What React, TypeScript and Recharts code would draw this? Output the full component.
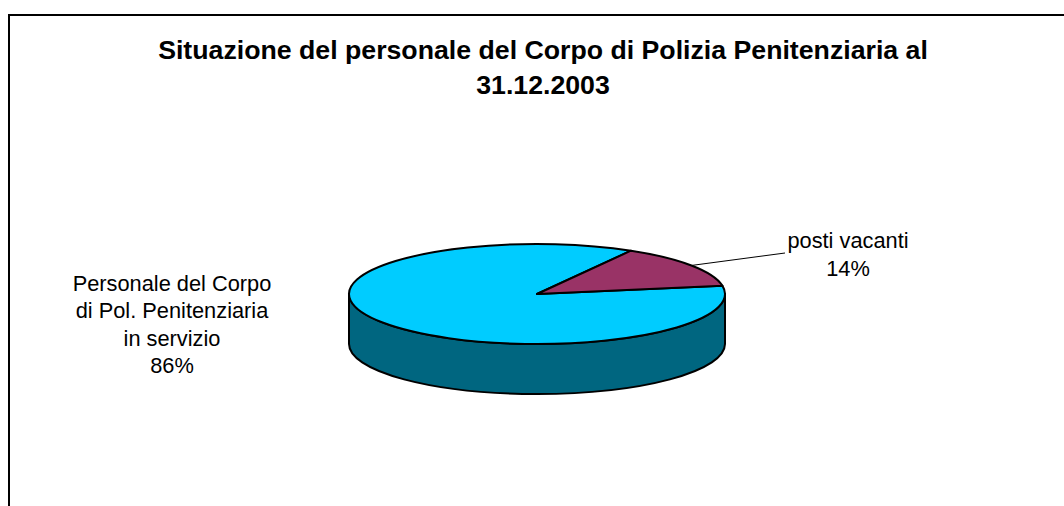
import { Pie, PieChart } from "recharts";

const categories = ["Personale del Corpo\ndi Pol. Penitenziaria\nin servizio", "posti vacanti"];
const values = [86, 14];
const topColors = ["#00CCFF", "#993366"];
const sideColors = ["#006680", "#4D1A33"];
const titleLines = ["Situazione del personale del Corpo di Polizia Penitenziaria al", "31.12.2003"];

const data = categories.map((name, i) => ({ name, value: values[i] }));

const FONT = "'Liberation Sans', Arial, sans-serif";
const RY_RATIO = 50 / 188;
const DEPTH = 50;
const LABEL_POS = [
  { x: 172, y: 291 },
  { x: 848, y: 248 },
];

const rad = (d: number) => (d * Math.PI) / 180;

function pt(cx: number, cy: number, r: number, a: number) {
  return [cx + r * Math.cos(rad(a)), cy - r * RY_RATIO * Math.sin(rad(a))];
}

function TopSlice(props: any) {
  const { cx, cy, outerRadius: r, startAngle, endAngle, index } = props;
  const s = Math.min(startAngle, endAngle);
  const e = Math.max(startAngle, endAngle);
  const [x1, y1] = pt(cx, cy, r, s);
  const [x2, y2] = pt(cx, cy, r, e);
  const large = e - s > 180 ? 1 : 0;
  const d = `M${cx},${cy} L${x1},${y1} A${r},${r * RY_RATIO} 0 ${large} 0 ${x2},${y2} Z`;
  return <path d={d} fill={topColors[index]} stroke="#000" strokeWidth={2} strokeLinejoin="round" />;
}

function SideSlice(props: any) {
  const { cx, cy, outerRadius: r, startAngle, endAngle, index } = props;
  const s = Math.min(startAngle, endAngle);
  const e = Math.max(startAngle, endAngle);
  const paths: string[] = [];
  for (const [lo, hi] of [[180, 360], [540, 720], [-180, 0]]) {
    const a = Math.max(s, lo);
    const b = Math.min(e, hi);
    if (b <= a) continue;
    const [x1, y1] = pt(cx, cy, r, a);
    const [x2, y2] = pt(cx, cy, r, b);
    const ry = r * RY_RATIO;
    paths.push(
      `M${x1},${y1} A${r},${ry} 0 0 0 ${x2},${y2} L${x2},${y2 + DEPTH} A${r},${ry} 0 0 1 ${x1},${y1 + DEPTH} Z`
    );
  }
  if (!paths.length) return <g />;
  return (
    <g>
      {paths.map((d, i) => (
        <path key={i} d={d} fill={sideColors[index]} stroke="#000" strokeWidth={2} strokeLinejoin="round" />
      ))}
    </g>
  );
}

function SliceLabel(props: any) {
  const { cx, cy, outerRadius: r, midAngle, percent, index, name } = props;
  const pos = LABEL_POS[index];
  const lines = [...String(name).split("\n"), `${Math.round(percent * 100)}%`];
  const lh = index === 0 ? 27.3 : 27.5;
  let leader = null;
  if (index === 1) {
    const [x0, y0] = pt(cx, cy, r, midAngle);
    leader = <polyline points={`${x0},${y0} 785,253`} fill="none" stroke="#000" strokeWidth={1} />;
  }
  return (
    <g>
      {leader}
      <text x={pos.x} y={pos.y} textAnchor="middle" fontFamily={FONT} fontSize={21.8} fill="#000">
        {lines.map((l, i) => (
          <tspan key={i} x={pos.x} dy={i === 0 ? 0 : lh}>
            {l}
          </tspan>
        ))}
      </text>
    </g>
  );
}

export default function App() {
  return (
    <div style={{ position: "absolute", left: 0, top: 0, width: 1064, height: 506, background: "#fff" }}>
      <div
        style={{
          position: "absolute",
          left: 8,
          top: 14,
          width: 1056,
          height: 492,
          borderTop: "2px solid #000",
          borderLeft: "2px solid #000",
          boxSizing: "border-box",
        }}
      />
      <div
        style={{
          position: "absolute",
          left: 0,
          top: 33,
          width: 1086,
          textAlign: "center",
          fontFamily: FONT,
          fontWeight: "bold",
          fontSize: 26.7,
          lineHeight: "35px",
          color: "#000",
        }}
      >
        {titleLines.map((t, i) => (
          <div key={i}>{t}</div>
        ))}
      </div>
      <div style={{ position: "absolute", left: 0, top: 0 }}>
        <PieChart width={1064} height={506} margin={{ top: 0, right: 0, bottom: 0, left: 0 }}>
          <Pie
            data={data}
            dataKey="value"
            nameKey="name"
            cx={537}
            cy={294}
            outerRadius={188}
            startAngle={60}
            endAngle={420}
            isAnimationActive={false}
            shape={SideSlice}
            activeShape={SideSlice}
            inactiveShape={SideSlice}
            label={false}
            labelLine={false}
            stroke="none"
          />
          <Pie
            data={data}
            dataKey="value"
            nameKey="name"
            cx={537}
            cy={294}
            outerRadius={188}
            startAngle={60}
            endAngle={420}
            isAnimationActive={false}
            shape={TopSlice}
            activeShape={TopSlice}
            inactiveShape={TopSlice}
            label={SliceLabel}
            labelLine={false}
            stroke="none"
          />
        </PieChart>
      </div>
    </div>
  );
}
